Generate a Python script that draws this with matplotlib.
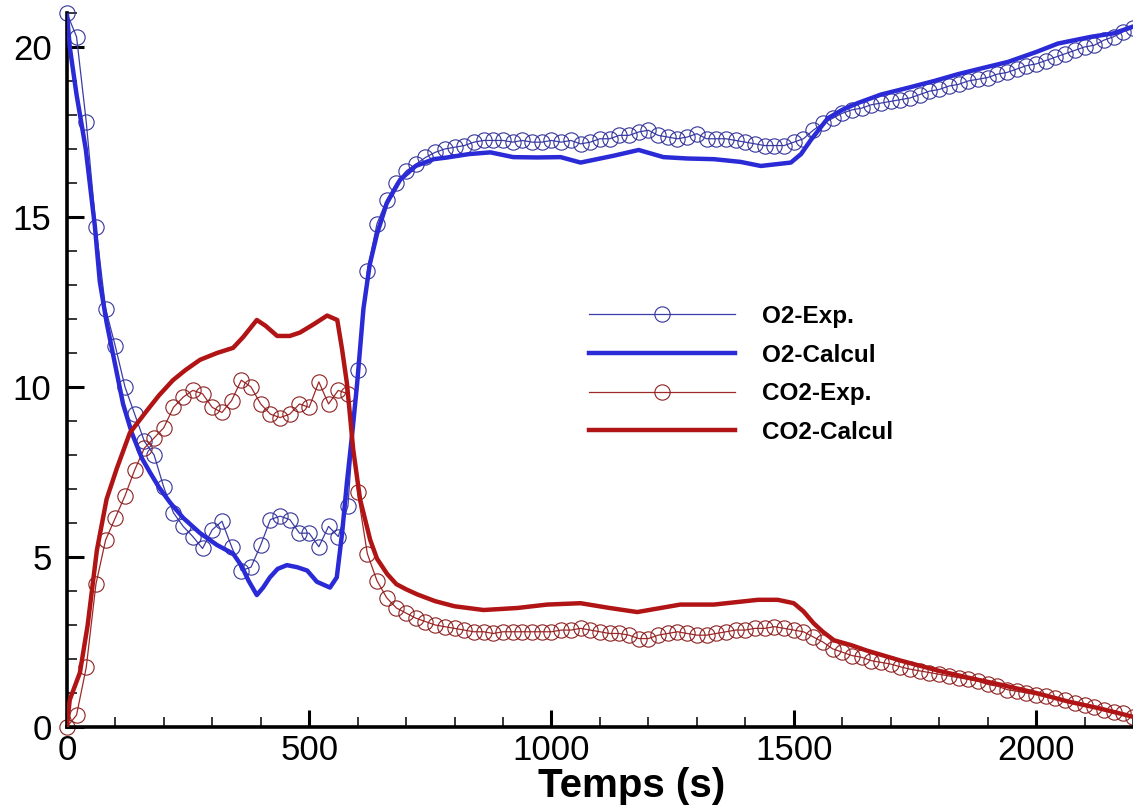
import numpy as np
import matplotlib
matplotlib.use("Agg")
import matplotlib.pyplot as plt
from matplotlib.ticker import MultipleLocator

plt.rcParams['font.family'] = ['Liberation Sans', 'DejaVu Sans']

# Experimental data, one point every 20 s
t_exp = np.arange(0, 2201, 20)

o2_exp = [21.0, 20.3, 17.8, 14.7, 12.3, 11.2, 10.0, 9.2, 8.4, 8.0,
          7.05, 6.3, 5.9, 5.6, 5.25, 5.8, 6.05, 5.3, 4.6, 4.7,
          5.35, 6.1, 6.2, 6.1, 5.7, 5.7, 5.3, 5.9, 5.6, 6.5,
          10.5, 13.4, 14.8, 15.5, 16.0, 16.35, 16.55, 16.75, 16.9, 17.0,
          17.05, 17.1, 17.2, 17.25, 17.25, 17.25, 17.2, 17.25, 17.2, 17.2,
          17.25, 17.2, 17.25, 17.15, 17.2, 17.3, 17.3, 17.4, 17.4, 17.5,
          17.55, 17.4, 17.35, 17.3, 17.35, 17.45, 17.3, 17.3, 17.3, 17.25,
          17.2, 17.15, 17.1, 17.1, 17.1, 17.2, 17.3, 17.55, 17.75, 17.9,
          18.05, 18.15, 18.2, 18.3, 18.35, 18.4, 18.45, 18.5, 18.6, 18.7,
          18.75, 18.85, 18.9, 19.0, 19.05, 19.1, 19.2, 19.25, 19.35, 19.45,
          19.5, 19.6, 19.7, 19.8, 19.9, 20.0, 20.05, 20.2, 20.3, 20.45,
          20.55]

co2_exp = [0.0, 0.35, 1.75, 4.2, 5.5, 6.15, 6.8, 7.56, 8.2, 8.5,
           8.8, 9.4, 9.7, 9.9, 9.8, 9.4, 9.25, 9.6, 10.2, 10.0,
           9.5, 9.2, 9.1, 9.2, 9.5, 9.4, 10.15, 9.5, 9.9, 9.8,
           6.9, 5.1, 4.3, 3.8, 3.5, 3.35, 3.2, 3.1, 3.0, 2.95,
           2.9, 2.85, 2.8, 2.8, 2.75, 2.8, 2.8, 2.8, 2.8, 2.8,
           2.8, 2.85, 2.85, 2.9, 2.85, 2.8, 2.75, 2.75, 2.7, 2.6,
           2.6, 2.7, 2.75, 2.8, 2.75, 2.7, 2.7, 2.75, 2.8, 2.85,
           2.85, 2.9, 2.9, 2.95, 2.9, 2.85, 2.8, 2.65, 2.5, 2.3,
           2.2, 2.1, 2.05, 1.95, 1.9, 1.85, 1.77, 1.7, 1.65, 1.6,
           1.55, 1.5, 1.45, 1.4, 1.35, 1.25, 1.2, 1.1, 1.05, 1.0,
           0.95, 0.9, 0.85, 0.8, 0.7, 0.65, 0.6, 0.5, 0.45, 0.4,
           0.3]

# Computed curves
t_o2_calc = [0, 6, 20, 39, 58, 68, 82, 99, 116, 134, 155, 171, 190, 213,
             240, 275, 310, 343, 360, 375, 392, 405, 419, 435, 454, 475,
             496, 516, 543, 557, 568, 578, 589, 599, 612, 625, 640, 660,
             688, 720, 757, 785, 830, 874, 921, 970, 1019, 1060, 1128, 1180,
             1231, 1280, 1335, 1390, 1432, 1494, 1515, 1535, 1570, 1600,
             1632, 1680, 1736, 1790, 1839, 1890, 1942, 2000, 2045, 2114,
             2160, 2200]
o2_calc = [21.0, 20.0, 18.6, 17.0, 14.7, 13.1, 11.9, 10.7, 9.5, 8.65, 7.9,
           7.5, 7.05, 6.6, 6.15, 5.7, 5.35, 5.1, 4.75, 4.3, 3.88, 4.1, 4.4,
           4.65, 4.76, 4.7, 4.6, 4.27, 4.1, 4.4, 5.7, 7.2, 8.65, 10.1,
           12.3, 13.6, 14.5, 15.4, 16.1, 16.5, 16.7, 16.75, 16.85, 16.9,
           16.76, 16.75, 16.76, 16.6, 16.8, 16.97, 16.76, 16.72, 16.7, 16.62,
           16.5, 16.6, 16.85, 17.26, 17.9, 18.15, 18.35, 18.6, 18.8, 19.0,
           19.2, 19.38, 19.56, 19.85, 20.1, 20.3, 20.4, 20.6]

t_co2_calc = [0, 6, 27, 43, 62, 82, 103, 130, 165, 190, 219, 245, 275, 310,
              343, 364, 392, 410, 434, 460, 481, 510, 537, 558, 568, 578,
              591, 605, 626, 640, 661, 680, 700, 723, 760, 800, 860, 930,
              991, 1060, 1120, 1177, 1266, 1335, 1426, 1467, 1500, 1520,
              1541, 1560, 1583, 1620, 1650, 1721, 1800, 1860, 1928, 2000,
              2066, 2130, 2200]
co2_calc = [0.0, 0.8, 1.6, 3.0, 5.2, 6.7, 7.6, 8.65, 9.3, 9.75, 10.2, 10.5,
            10.8, 11.0, 11.15, 11.47, 11.97, 11.8, 11.5, 11.5, 11.6, 11.85,
            12.1, 11.97, 11.1, 10.1, 8.15, 6.7, 5.5, 4.95, 4.5, 4.2, 4.05,
            3.9, 3.7, 3.55, 3.44, 3.5, 3.6, 3.64, 3.5, 3.38, 3.6, 3.6, 3.74,
            3.74, 3.64, 3.4, 3.05, 2.8, 2.55, 2.4, 2.25, 1.95, 1.65, 1.45,
            1.24, 1.0, 0.75, 0.55, 0.3]

fig = plt.figure(figsize=(11.33, 8.10), dpi=100)
ax = fig.add_axes([0.059, 0.1025, 0.941, 0.8815])

ax.plot(t_exp, o2_exp, color='#3c3ca8', lw=0.9, marker='o', ms=11,
        mfc='none', mec='#34349a', mew=0.8, label='O2-Exp.', clip_on=False)
ax.plot(t_o2_calc, o2_calc, color='#2a2ad6', lw=3.2, label='O2-Calcul')
ax.plot(t_exp, co2_exp, color='#a02828', lw=0.9, marker='o', ms=11,
        mfc='none', mec='#8c2020', mew=0.8, label='CO2-Exp.', clip_on=False)
ax.plot(t_co2_calc, co2_calc, color='#b01414', lw=3.2, label='CO2-Calcul')

# calculated curves sit on top of the markers
for ln in ax.lines:
    ln.set_zorder(3 if ln.get_marker() == 'None' else 2)

ax.set_xlim(0, 2200)
ax.set_ylim(0, 21)
ax.xaxis.set_major_locator(MultipleLocator(500))
ax.xaxis.set_minor_locator(MultipleLocator(100))
ax.yaxis.set_major_locator(MultipleLocator(5))
ax.yaxis.set_minor_locator(MultipleLocator(1))

ax.spines['top'].set_visible(False)
ax.spines['right'].set_visible(False)
ax.spines['left'].set_linewidth(2.6)
ax.spines['bottom'].set_linewidth(2.6)

ax.tick_params(which='major', direction='in', length=12, width=2.2,
               labelsize=25)
ax.tick_params(which='minor', direction='in', length=7, width=1.1)
ax.tick_params(axis='x', which='major', pad=5)
ax.tick_params(axis='y', which='major', pad=11)

ax.set_xlabel('Temps (s)', fontsize=29, fontweight='bold')
ax.xaxis.set_label_coords(0.53, -0.056)

ax.legend(loc='upper left', bbox_to_anchor=(0.49, 0.591), frameon=False,
          numpoints=1, handlelength=6.0, handletextpad=1.1,
          labelspacing=0.64, borderpad=0, borderaxespad=0,
          prop={'size': 17.5, 'weight': 'bold'})

fig.savefig('out.png', dpi=100)
